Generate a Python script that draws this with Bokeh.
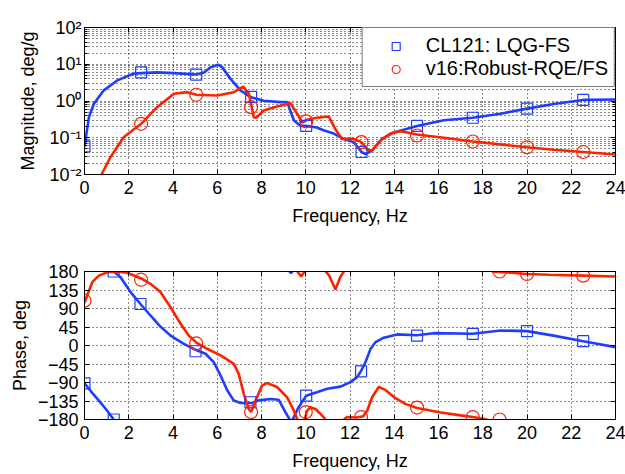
import numpy as np
from bokeh.plotting import figure
from bokeh.layouts import column
from bokeh.models import (Range1d, FixedTicker, CustomJSTickFormatter,
                          Legend, LegendItem, LinearAxis, LogAxis)
from bokeh.embed import file_html
from bokeh.resources import INLINE

FONT = "Liberation Sans"
BLUE = "#1f3dff"
RED = "#ff2200"
nan = np.nan

# ---- magnitude, deg/g ----
lqg_mag_f = [0, 0.09, 0.2, 0.42, 0.87, 1.48, 2.2, 2.56, 3.28, 4.04, 5.06, 5.4,
             5.7, 6.03, 6.22, 6.6, 7.05, 7.53, 8.1, 8.86, 9.16, 9.46, 9.76,
             10.02, 10.5, 10.8, 11.27, 11.72, 12.17, 12.52, 12.7, 13.0, 13.45,
             13.98, 15.03, 16.24, 17.55, 18.8, 20.0, 21.2, 22.54, 24.0]
lqg_mag = [0.058, 0.132, 0.363, 0.83, 1.95, 3.63, 5.5, 5.75, 6.0, 5.75, 5.25,
           6.0, 8.3, 9.7, 8.3, 4.0, 1.95, 1.26, 1.02, 0.93, 0.93, 0.30, 0.21,
           0.21, 0.19, 0.16, 0.13, 0.093, 0.076, 0.041, 0.036, 0.045, 0.093,
           0.14, 0.21, 0.30, 0.35, 0.45, 0.62, 0.83, 1.07, 1.10]

rob_mag_f = [0.77, 1.17, 1.78, 2.56, 3.28, 4.04, 4.64, 5.06, 6.0, 6.75, 7.17,
             7.43, 7.65, 7.76, 8.1, 8.7, 9.31, 9.61, 9.84, 10.06, 10.5, 11.04,
             11.34, 11.64, 12.17, 12.52, 12.78, 13.0, 13.38, 13.83, 14.28,
             15.03, 16.24, 17.55, 18.8, 20.0, 21.2, 22.54, 24.0]
rob_mag = [0.010, 0.0295, 0.105, 0.24, 0.68, 1.58, 1.74, 1.48, 1.41, 1.74,
           2.45, 1.58, 0.36, 0.35, 0.55, 0.71, 0.87, 0.45, 0.26, 0.31, 0.35,
           0.38, 0.17, 0.093, 0.093, 0.076, 0.047, 0.045, 0.085, 0.13, 0.15,
           0.123, 0.10, 0.079, 0.066, 0.055, 0.047, 0.041, 0.035]

lqg_mag_mk_f = [0, 2.56, 5.05, 7.53, 10.02, 12.52, 15.03, 17.55, 20.0, 22.54]
lqg_mag_mk = [0.058, 6.0, 5.25, 1.3, 0.21, 0.041, 0.21, 0.35, 0.62, 1.07]
rob_mag_mk_f = [2.56, 5.05, 7.53, 10.02, 12.52, 15.03, 17.55, 20.0, 22.54]
rob_mag_mk = [0.24, 1.48, 0.68, 0.28, 0.076, 0.115, 0.079, 0.055, 0.041]

# ---- phase, deg (wrapped to +/-180, NaN breaks at the wraps) ----
lqg_ph_f = [0, 0.3, 0.65, 1.0, 1.32, nan, 1.32, 1.63, 2.08, 2.53, 2.98, 3.43,
            3.89, 4.49, 5.02, 5.47, 5.84, 6.15, 6.45, 6.75, 7.05, 7.65, 7.8,
            8.4, 8.78, 9.08, 9.27, nan, 9.27, 9.33, 9.4, nan, 9.4, 9.46, 9.68,
            10.02, 10.5, 10.97, 11.57, 12.02, 12.32, 12.5, 12.7, 12.93, 13.15,
            13.53, 14.13, 15.03, 15.78, 17.55, 18.8, 20.0, 21.2, 22.54, 24.0]
lqg_ph = [-92, -112, -134, -157, -180, nan, 180, 166, 130, 101, 73, 46, 24, 4,
          -10.5, -20, -40.5, -73, -109, -134, -140, -140, -134, -130, -132,
          -162, -180, nan, 180, 176, 180, nan, -180, -174, -150, -122, -113.5,
          -105, -100, -89, -77, -62, -40.5, -8, 8, 19, 27, 25, 30, 28.5, 36.5,
          35, 24, 10.5, -4]

rob_ph_f = [0, 0.15, 0.35, 0.65, 1.03, 1.48, 1.93, 2.56, 2.98, 3.43, 3.89,
            4.34, 4.72, 5.09, 5.54, 6.15, 6.75, 6.97, 7.2, 7.42, 7.53, 7.73,
            8.03, 8.26, 8.7, 9.16, 9.46, 9.62, nan, 9.62, 9.79, 9.96, nan,
            9.96, 10.05, 10.2, 10.45, 10.7, 10.9, nan, 10.9, 11.06, 11.34,
            11.55, 11.72, nan, 11.72, 11.87, 12.3, 12.6, 12.78, 13.0, 13.3,
            13.6, 14.0, 14.5, 15.03, 16.1, 17.0, 17.55, 18.0, 18.2, nan, 18.4,
            19.0, 20.0, 21.0, 22.54, 24.0]
rob_ph = [104, 126, 154, 170, 178, 180, 177, 163, 150, 130, 93, 53, 24, 5.6,
          -8, -24, -44.5, -69, -117.5, -154, -162, -134, -97, -91.5, -101,
          -126, -158, -180, nan, 180, 168, 180, nan, -180, -160, -150, -155,
          -168, -180, nan, 180, 170, 136, 165, 180, nan, -180, -174, -175,
          -172, -158, -126, -101, -108, -126, -142, -152, -163, -170, -174,
          -178, -180, nan, 180, 178, 174, 172, 170, 168]

lqg_ph_mk_f = [0, 1.32, 1.32, 2.53, 5.02, 7.5, 10.02, 12.5, 15.03, 17.55,
               20.0, 22.54]
lqg_ph_mk = [-92, -180, 180, 101, -14, -138, -122, -63, 24, 28.5, 35, 10.5]
rob_ph_mk_f = [0, 2.56, 5.05, 7.53, 10.0, 12.5, 15.03, 17.55, 18.76, 18.76,
               20.0, 22.54]
rob_ph_mk = [109, 160, 5, -162, -162, -174, -151, -174, -180, 180, 174, 170]

freq_ticks = list(range(0, 25, 2))
mag_ticks = [1e-2, 1e-1, 1, 10, 100]
mag_minor = [k * 10.0 ** e for e in range(-2, 2) for k in range(2, 10)]
phase_ticks = list(range(-180, 181, 45))

LEGEND_LABELS = ["CL121: LQG-FS", "v16:Robust-RQE/FS"]


def tick_style(ax):
    ax.axis_line_color = "black"
    ax.major_tick_line_color = "black"
    ax.minor_tick_line_color = "black"
    ax.major_tick_in = 5
    ax.major_tick_out = 0
    ax.minor_tick_in = 3
    ax.minor_tick_out = 0


def box_axes(p, y_axis_cls, y_ticker):
    # tick marks along the top and right edges of the frame, no labels
    top = LinearAxis(ticker=FixedTicker(ticks=freq_ticks),
                     formatter=CustomJSTickFormatter(code="return '';"),
                     major_label_standoff=0, axis_label_standoff=0)
    right = y_axis_cls(ticker=y_ticker,
                       formatter=CustomJSTickFormatter(code="return '';"),
                       major_label_standoff=0, axis_label_standoff=0)
    for ax in (top, right):
        tick_style(ax)
        ax.major_label_text_font_size = "1px"
    p.add_layout(top, "above")
    p.add_layout(right, "right")


def style(p, ylabel):
    p.outline_line_color = "black"
    p.outline_line_width = 1
    p.outline_line_alpha = 1
    p.background_fill_color = "white"
    p.border_fill_color = "white"
    p.xaxis.axis_label = "Frequency, Hz"
    p.yaxis.axis_label = ylabel
    p.xaxis.ticker = FixedTicker(ticks=freq_ticks)
    for ax in (p.xaxis, p.yaxis):
        tick_style(ax)
        ax.major_label_text_font = FONT
        ax.major_label_text_font_size = "18px"
        ax.major_label_text_color = "black"
        ax.major_label_standoff = 6
        ax.axis_label_text_font = FONT
        ax.axis_label_text_font_size = "18px"
        ax.axis_label_text_font_style = "normal"
        ax.axis_label_text_color = "black"
    p.xaxis.axis_label_standoff = 9
    for g in (p.xgrid, p.ygrid):
        g.grid_line_color = "black"
        g.grid_line_dash = "1 3"
        g.grid_line_width = 1
        g.grid_line_alpha = 0.9


# ---- magnitude panel ----
p1 = figure(width=625, height=237, output_backend="svg", toolbar_location=None,
            x_range=Range1d(0, 24), y_range=Range1d(0.01, 100),
            y_axis_type="log", min_border_left=84, min_border_right=10,
            min_border_top=27, min_border_bottom=63)
style(p1, "Magnitude, deg/g")
mag_ticker = FixedTicker(ticks=mag_ticks, minor_ticks=mag_minor)
p1.yaxis.ticker = mag_ticker
p1.yaxis.formatter = CustomJSTickFormatter(code="""
    const e = Math.round(Math.log10(tick));
    const sup = {'-': '\u207b', '0': '\u2070', '1': '\u00b9', '2': '\u00b2'};
    return '10' + String(e).split('').map(c => sup[c]).join('');
""")
p1.yaxis.major_label_standoff = 3
p1.yaxis.axis_label_standoff = 8
p1.ygrid.minor_grid_line_color = "black"
p1.ygrid.minor_grid_line_dash = "1 3"
p1.ygrid.minor_grid_line_alpha = 0.9
box_axes(p1, LogAxis, FixedTicker(ticks=mag_ticks, minor_ticks=mag_minor))

p1.line(lqg_mag_f, lqg_mag, line_color=BLUE, line_width=2.6)
p1.line(rob_mag_f, rob_mag, line_color=RED, line_width=2.6)
sq1 = p1.scatter(lqg_mag_mk_f, lqg_mag_mk, marker="square", size=11,
                 fill_color=None, line_color=BLUE, line_width=1.2)
ci1 = p1.scatter(rob_mag_mk_f, rob_mag_mk, marker="circle", size=13,
                 fill_color=None, line_color=RED, line_width=1.2)

legend = Legend(items=[LegendItem(label=LEGEND_LABELS[0], renderers=[sq1]),
                       LegendItem(label=LEGEND_LABELS[1], renderers=[ci1])],
                location="top_right", margin=0, padding=6, spacing=0,
                glyph_width=54, glyph_height=20, label_standoff=3,
                label_height=20, border_line_color="black",
                border_line_width=1, background_fill_color="white",
                background_fill_alpha=1, label_text_font=FONT,
                label_text_font_size="20px", label_text_color="black")
p1.add_layout(legend)

# ---- phase panel ----
p2 = figure(width=625, height=237, output_backend="svg", toolbar_location=None,
            x_range=Range1d(0, 24), y_range=Range1d(-180, 180),
            min_border_left=84, min_border_right=10,
            min_border_top=34, min_border_bottom=55)
style(p2, "Phase, deg")
p2.yaxis.ticker = FixedTicker(ticks=phase_ticks)
box_axes(p2, LinearAxis, FixedTicker(ticks=phase_ticks))

p2.line(lqg_ph_f, lqg_ph, line_color=BLUE, line_width=2.6)
p2.line(rob_ph_f, rob_ph, line_color=RED, line_width=2.6)
p2.scatter(lqg_ph_mk_f, lqg_ph_mk, marker="square", size=11,
           fill_color=None, line_color=BLUE, line_width=1.2)
p2.scatter(rob_ph_mk_f, rob_ph_mk, marker="circle", size=13,
           fill_color=None, line_color=RED, line_width=1.2)

layout = column(p1, p2, spacing=0)
open("out.html", "w").write(file_html(layout, INLINE))
